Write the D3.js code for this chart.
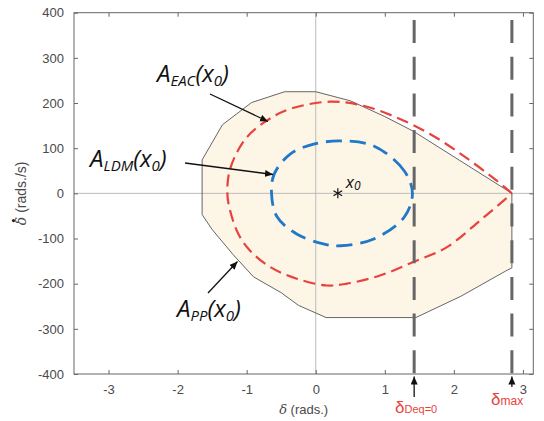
<!DOCTYPE html>
<html><head><meta charset="utf-8">
<script src="https://cdn.jsdelivr.net/npm/d3@7"></script>
<style>body{margin:0;background:#fff} svg{display:block}</style>
</head><body><svg id="c" width="544" height="421"></svg>
<script>
// ---------- data ----------
const xTicks = [-3, -2, -1, 0, 1, 2, 3];
const yTicks = [-400, -300, -200, -100, 0, 100, 200, 300, 400];

// A_PP(x0) polygon (delta, delta-dot)
const ppDelta = [-1.645, -1.35, -0.93, -0.45, 0, 0.5, 1.0, 1.42, 2.84, 2.84, 2.75, 2.1, 1.45, 0.15, -0.25, -0.5, -0.9, -1.2, -1.5, -1.645];
const ppRate  = [74, 152, 201, 225, 225, 205, 170, 137, 0, -165, -172, -228, -275, -275, -248, -220, -185, -135, -80, -47];

// A_EAC(x0) boundary (red dashed)
const eacDelta = [2.84, 2.62, 2.14, 1.66, 1.17, 0.69, 0.21, -0.37, -0.71, -1.02, -1.24, -1.28, -1.24, -1.12, -0.95, -0.66, -0.275, 0.16, 0.45, 0.93, 1.41, 1.9, 2.38, 2.72, 2.84];
const eacRate  = [0, 28, 83, 131, 168, 194, 203, 187, 161, 120, 54, 0, -38, -90, -127, -163, -189, -204, -200, -182, -152, -119, -60, -16, 0];

// A_LDM(x0) boundary (blue dashed, closed)
const ldmDelta = [1.40, 1.28, 0.84, 0.36, -0.03, -0.37, -0.60, -0.64, -0.56, -0.275, 0.11, 0.36, 0.84, 1.28];
const ldmRate  = [0, 50, 105, 116, 109, 87, 43, 0, -52, -90, -112, -116, -101, -53];

const x0Point = [0.32, 0];
const deltaMarks = [1.425, 2.84];   // delta_Deq=0, delta_max

// ---------- chart ----------
const svg = d3.select("#c");
const X = d3.scaleLinear().domain([-3.5, 3.15]).range([74, 533.3]);
const Y = d3.scaleLinear().domain([-400, 400]).range([374, 12.7]);
const [x0p, x1p] = X.range(), [y0p, y1p] = Y.range();

const defs = svg.append("defs");
defs.append("marker").attr("id", "ah").attr("markerUnits", "userSpaceOnUse")
  .attr("markerWidth", 10).attr("markerHeight", 8).attr("refX", 8).attr("refY", 3.5)
  .attr("orient", "auto")
  .append("path").attr("d", "M0,0 L8,3.5 L0,7 Z").attr("fill", "#111");

const zip = (a, b) => a.map((v, i) => [v, b[i]]);
const ppPts = zip(ppDelta, ppRate), eacPts = zip(eacDelta, eacRate), ldmPts = zip(ldmDelta, ldmRate);

// polygon fill
const polyLine = d3.line().x(d => X(d[0])).y(d => Y(d[1])).curve(d3.curveLinearClosed);
svg.append("path").attr("d", polyLine(ppPts)).attr("fill", "#fdf5e6").attr("stroke", "none");

// zero lines
svg.append("line").attr("x1", X(0)).attr("x2", X(0)).attr("y1", y1p).attr("y2", y0p).attr("stroke", "#bbb").attr("stroke-width", 1);
svg.append("line").attr("x1", x0p).attr("x2", x1p).attr("y1", Y(0)).attr("y2", Y(0)).attr("stroke", "#bbb").attr("stroke-width", 1);

// polygon outline
svg.append("path").attr("d", polyLine(ppPts)).attr("fill", "none").attr("stroke", "#555").attr("stroke-width", 0.9);

// EAC (red dashed)
svg.append("path")
  .attr("d", d3.line().x(d => X(d[0])).y(d => Y(d[1])).curve(d3.curveCatmullRom)(eacPts))
  .attr("fill", "none").attr("stroke", "#e8423d").attr("stroke-width", 2.2)
  .attr("stroke-dasharray", "12,6");

// LDM (blue dashed)
svg.append("path")
  .attr("d", d3.line().x(d => X(d[0])).y(d => Y(d[1])).curve(d3.curveCatmullRomClosed)(ldmPts))
  .attr("fill", "none").attr("stroke", "#1f78c8").attr("stroke-width", 2.8)
  .attr("stroke-dasharray", "16,8");

// vertical dashed lines
svg.selectAll(".vd").data(deltaMarks).enter().append("line")
  .attr("x1", d => X(d)).attr("x2", d => X(d)).attr("y1", y1p).attr("y2", y0p)
  .attr("stroke", "#666").attr("stroke-width", 3)
  .attr("stroke-dasharray", "23,13.7").attr("stroke-dashoffset", 29.4);

// x0 star
const sx = X(x0Point[0]), sy = Y(x0Point[1]);
[90, 30, 150].forEach(a => {
  const r = 5, t = a * Math.PI / 180;
  svg.append("line").attr("x1", sx - r * Math.cos(t)).attr("y1", sy - r * Math.sin(t))
    .attr("x2", sx + r * Math.cos(t)).attr("y2", sy + r * Math.sin(t))
    .attr("stroke", "#111").attr("stroke-width", 1.2);
});
const x0t = svg.append("text").attr("x", sx + 8).attr("y", sy - 5)
  .attr("font-family", "'Open Sans', sans-serif").attr("font-style", "italic").attr("fill", "#111").attr("font-size", 17);
x0t.append("tspan").text("x");
x0t.append("tspan").attr("font-size", 12).attr("dy", 2).text("0");

// annotation labels with subscripts
function label(xp, yp, sub) {
  const t = svg.append("text").attr("x", xp).attr("y", yp)
    .attr("font-family", "'Open Sans', sans-serif").attr("font-style", "italic")
    .attr("fill", "#111").attr("font-size", 24);
  t.append("tspan").text("A");
  t.append("tspan").attr("font-size", 15).attr("dy", 4).text(sub);
  t.append("tspan").attr("dy", -4).text("(x");
  t.append("tspan").attr("font-size", 15).attr("dy", 4).text("0");
  t.append("tspan").attr("dy", -4).text(")");
}
label(157, 82, "EAC");
label(90, 167, "LDM");
label(177, 317, "PP");

function arrow(xa, ya, xb, yb) {
  svg.append("line").attr("x1", xa).attr("y1", ya).attr("x2", xb).attr("y2", yb)
    .attr("stroke", "#111").attr("stroke-width", 1.3).attr("marker-end", "url(#ah)");
}
arrow(210, 94, 268, 121.5);
arrow(185, 163, 273, 174.5);
arrow(208, 293, 237.5, 261.5);

// axes
const axCol = "#666", txtCol = "#4a4a4a";
const fmt = d => String(d);
function styleAxis(g, showText) {
  g.select(".domain").remove();
  g.selectAll(".tick line").attr("stroke", axCol);
  g.selectAll(".tick text").attr("fill", txtCol).attr("font-size", 13)
    .attr("font-family", "'Liberation Sans', Arial, sans-serif");
  if (!showText) g.selectAll(".tick text").remove();
}
svg.append("g").attr("transform", `translate(0,${y0p})`)
  .call(d3.axisBottom(X).tickValues(xTicks).tickSize(-4).tickPadding(11).tickFormat(fmt))
  .call(g => styleAxis(g, true));
svg.append("g").attr("transform", `translate(0,${y1p})`)
  .call(d3.axisTop(X).tickValues(xTicks).tickSize(-4))
  .call(g => styleAxis(g, false));
svg.append("g").attr("transform", `translate(${x0p},0)`)
  .call(d3.axisLeft(Y).tickValues(yTicks).tickSize(-4).tickPadding(10).tickFormat(fmt))
  .call(g => styleAxis(g, true));
svg.append("g").attr("transform", `translate(${x1p},0)`)
  .call(d3.axisRight(Y).tickValues(yTicks).tickSize(-4))
  .call(g => styleAxis(g, false));
svg.append("rect").attr("x", x0p).attr("y", y1p).attr("width", x1p - x0p).attr("height", y0p - y1p)
  .attr("fill", "none").attr("stroke", axCol).attr("stroke-width", 1);

// axis titles
const xl = svg.append("text").attr("x", (x0p + x1p) / 2).attr("y", 414).attr("text-anchor", "middle")
  .attr("fill", txtCol).attr("font-size", 13).attr("font-family", "'Liberation Sans', Arial, sans-serif");
xl.append("tspan").attr("font-family", "'DejaVu Serif', serif").attr("font-style", "italic").text("δ");
xl.append("tspan").text(" (rads.)");

const yg = svg.append("g").attr("transform", `translate(26,${(y0p + y1p) / 2}) rotate(-90)`);
const yl = yg.append("text").attr("text-anchor", "middle")
  .attr("fill", txtCol).attr("font-size", 14).attr("font-family", "'Liberation Sans', Arial, sans-serif");
const ydel = yl.append("tspan").attr("font-family", "'DejaVu Serif', serif").attr("font-style", "italic").text("δ");
yl.append("tspan").text(" (rads./s)");
// dot above delta (time derivative)
const tw = yl.node().getComputedTextLength();
const dw = ydel.node().getComputedTextLength();
yg.append("circle").attr("cx", -tw / 2 + dw * 0.55).attr("cy", -12.5).attr("r", 1.6).attr("fill", "#222");

// delta markers below the axis
arrow(X(deltaMarks[0]), 397, X(deltaMarks[0]), 376.5);
arrow(X(deltaMarks[1]), 387, X(deltaMarks[1]), 376.5);
const red = "#e8423d";
const d1 = svg.append("text").attr("x", 395).attr("y", 413).attr("fill", red)
  .attr("font-family", "'Liberation Sans', Arial, sans-serif").attr("font-size", 17);
d1.append("tspan").text("δ");
d1.append("tspan").attr("font-size", 11).text("Deq=0");
const d2 = svg.append("text").attr("x", 491).attr("y", 405).attr("fill", red)
  .attr("font-family", "'Liberation Sans', Arial, sans-serif").attr("font-size", 17);
d2.append("tspan").text("δ");
d2.append("tspan").attr("font-size", 12).text("max");
</script></body></html>
